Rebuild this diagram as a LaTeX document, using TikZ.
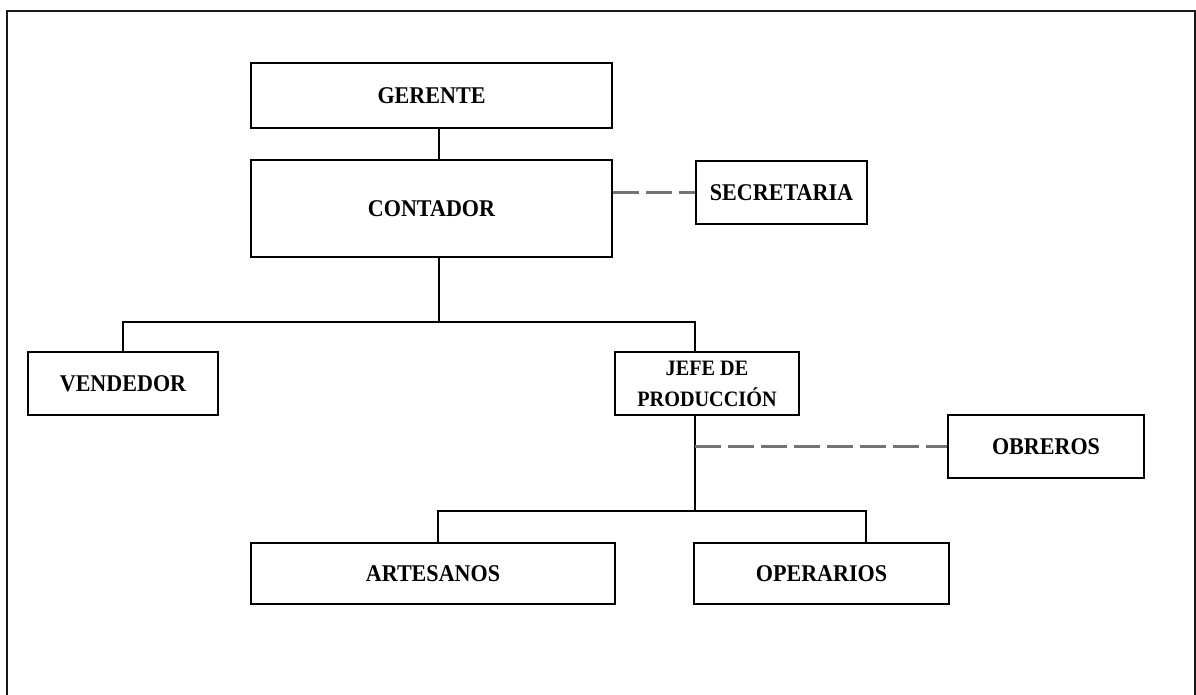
\documentclass[tikz,border=0pt]{standalone}
\usepackage{fontspec}
\newfontfamily\boxfont[FakeStretch=0.92]{Liberation Serif}
\begin{document}
\begin{tikzpicture}[x=1pt,y=-1pt,
  box/.style={draw=black,line width=1.3pt,rectangle,inner sep=0pt,
    font=\boxfont\bfseries\fontsize{24}{28}\selectfont,align=center},
  conn/.style={draw=black,line width=1.1pt},
  staff/.style={draw=black!55,line width=2.4pt,dash pattern=on 26pt off 7pt},
  frame/.style={draw=black!90,line width=2pt}]
\useasboundingbox (0,0) rectangle (1196,695);
\draw[frame] (7,695) -- (7,11) -- (1195,11) -- (1195,695);

\node[box,minimum width=361pt,minimum height=65pt] (gerente) at (431.5,95.5) {GERENTE};
\node[box,minimum width=361pt,minimum height=97pt] (contador) at (431.5,208.5) {CONTADOR};
\node[box,minimum width=171pt,minimum height=63pt] (secretaria) at (781.5,192.5) {SECRETARIA};
\node[box,minimum width=190pt,minimum height=63pt] (vendedor) at (123,383.5) {VENDEDOR};
\node[box,minimum width=184pt,minimum height=63pt,font=\boxfont\bfseries\fontsize{22}{31}\selectfont] (jefe) at (707,383.5) {JEFE DE\\PRODUCCIÓN};
\node[box,minimum width=196pt,minimum height=63pt] (obreros) at (1046,446.5) {OBREROS};
\node[box,minimum width=364pt,minimum height=61pt] (artesanos) at (433,573.5) {ARTESANOS};
\node[box,minimum width=255pt,minimum height=61pt] (operarios) at (821.5,573.5) {OPERARIOS};

\coordinate (xa) at (439,0);
\coordinate (ya) at (0,322);
\coordinate (xb) at (695,0);
\coordinate (yb) at (0,511);

\draw[conn] (gerente.south -| xa) -- (contador.north -| xa);
\draw[conn] (contador.south -| xa) -- (xa |- ya);
\draw[conn] (vendedor.north) -- (vendedor.north |- ya) -- (xb |- ya) -- (jefe.north -| xb);
\draw[conn] (jefe.south -| xb) -- (xb |- yb);
\draw[conn] (artesanos.north -| 438,0) -- (438,511) -- (866,511) -- (operarios.north -| 866,0);

\draw[staff] (secretaria.west -| contador.east) -- (secretaria.west);
\draw[staff] (xb |- obreros.west) -- (obreros.west);
\end{tikzpicture}
\end{document}
